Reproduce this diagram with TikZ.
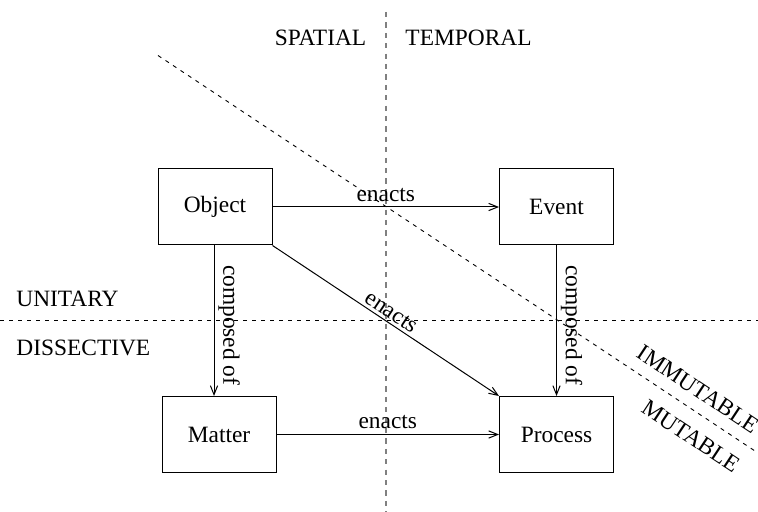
\documentclass[tikz,border=0pt]{standalone}
\usepackage{fontspec}
\setmainfont{Liberation Serif}
\usetikzlibrary{arrows.meta}
\tikzset{
  box/.style={draw, line width=0.5pt, minimum width=57pt, minimum height=38pt, inner sep=0pt, font=\fontsize{11.7}{14}\selectfont},
  arr/.style={line width=0.5pt, -{Straight Barb[length=4.5pt,width=3.6pt]}},
  lbl/.style={font=\fontsize{11.7}{14}\selectfont, inner sep=1pt},
  divider/.style={line width=0.45pt, dash pattern=on 2pt off 2.5pt},
  vdivider/.style={line width=0.8pt, draw=gray, dash pattern=on 2.6pt off 2.6pt},
}
\begin{document}
\begin{tikzpicture}[x=0.5pt, y=-0.5pt]
\useasboundingbox (0,0) rectangle (758,512);
% dividers
\coordinate (vtop) at (386,12);
\coordinate (vbot) at (386,512);
\coordinate (hl) at (0,320.5);
\coordinate (hr) at (758,320.5);
\coordinate (dtop) at (158,55.5);
\coordinate (dbot) at (758,453);
\draw[vdivider] (vtop) -- (vbot);
\draw[divider] (hl) -- (hr);
\draw[divider] (dtop) -- (dbot);
% region labels
\node[lbl] (spatial) at (320.5,38) {SPATIAL};
\node[lbl] (temporal) at (468.5,38) {TEMPORAL};
\node[lbl, anchor=west] (unitary) at (14,299) {UNITARY};
\node[lbl, anchor=west] (dissective) at (14,348) {DISSECTIVE};
\node[lbl, rotate=-33.5] (immutable) at (698,389) {IMMUTABLE};
\node[lbl, rotate=-33.5] (mutable) at (691,436) {MUTABLE};
% boxes
\node[box] (Object) at (215,207) {Object};
\node[box] (Event) at (556.5,207) {Event};
\node[box] (Matter) at (219,434.5) {Matter};
\node[box] (Process) at (556.5,434.5) {Process};
% arrows
\draw[arr] (Object) -- node[lbl, above=1.5pt] {enacts} (Event);
\draw[arr] (Matter) -- node[lbl, above=1.5pt] {enacts} (Process);
\draw[arr] (Object.south -| 214,0) -- node[lbl, rotate=-90, anchor=south, yshift=1pt, pos=0.53] {composed of} (Matter.north -| 214,0);
\draw[arr] (Event.south) -- node[lbl, rotate=-90, anchor=south, yshift=1pt, pos=0.53] {composed of} (Process.north);
\draw[arr] (Object.south east) -- node[lbl, sloped, above=0.5pt, pos=0.5] {enacts} (Process.north west);
\end{tikzpicture}
\end{document}
